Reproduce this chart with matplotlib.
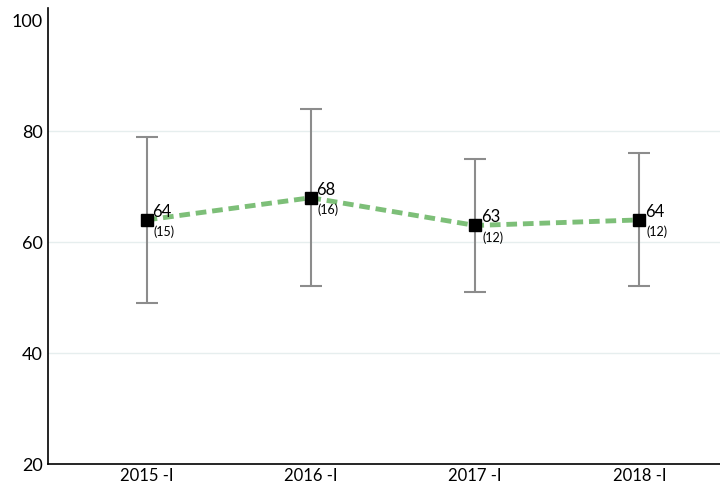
import matplotlib.pyplot as plt

plt.rcParams['font.family'] = ['Lato', 'DejaVu Sans']

periods = ['2015 -I', '2016 -I', '2017 -I', '2018 -I']
means = [64, 68, 63, 64]
lower = [49, 52, 51, 52]
upper = [79, 84, 75, 76]
counts = [15, 16, 12, 12]

fig = plt.figure(figsize=(7.2, 4.99), dpi=100)
ax = fig.add_axes([0.0667, 0.0701, 0.9333, 0.9139])

x = list(range(len(periods)))
yerr = [[m - lo for m, lo in zip(means, lower)], [hi - m for m, hi in zip(means, upper)]]

for g in [40, 60, 80]:
    ax.axhline(g, color='#e6eeee', lw=1, zorder=0)

ax.errorbar(x, means, yerr=yerr, fmt='none', ecolor='#8c8c8c', elinewidth=1.5,
            capsize=8, capthick=1.5, zorder=2)
ax.plot(x, means, color='#7dbf78', lw=3.5, ls=(0, (2.2, 1.2)), zorder=3)
ax.plot(x, means, 's', color='black', ms=8, zorder=4)

for xi, m, n in zip(x, means, counts):
    ax.annotate(str(m), (xi, m), xytext=(4, 0), textcoords='offset points',
                fontsize=12, va='bottom', ha='left')
    ax.annotate(f'({n})', (xi, m), xytext=(5, -4), textcoords='offset points',
                fontsize=9, va='top', ha='left')

ax.set_xlim(-0.6, 3.49)
ax.set_ylim(20, 102.2)
ax.set_yticks([20, 40, 60, 80, 100])
ax.set_xticks(x)
ax.set_xticklabels(periods)
ax.tick_params(axis='y', length=0, labelsize=13, pad=4)
ax.tick_params(axis='x', length=0, labelsize=12, pad=3)
ax.spines['top'].set_visible(False)
ax.spines['right'].set_visible(False)
ax.spines['left'].set_linewidth(1.2)
ax.spines['bottom'].set_linewidth(1.2)

plt.savefig('out.png', dpi=100)
